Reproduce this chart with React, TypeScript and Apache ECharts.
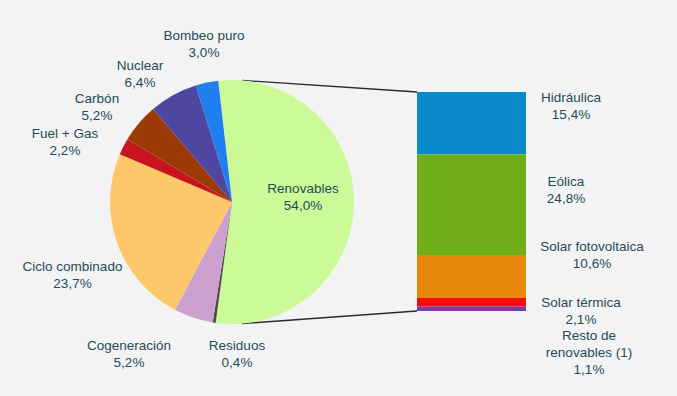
import React, { useEffect, useRef } from "react";
import * as echarts from "echarts";

const pieCategories = ["Renovables", "Residuos", "Cogeneración", "Ciclo combinado", "Fuel + Gas", "Carbón", "Nuclear", "Bombeo puro"];
const pieValues = [54.0, 0.4, 5.2, 23.7, 2.2, 5.2, 6.4, 3.0];
const pieColors = ["#ccfa99", "#4d4d45", "#cca0cf", "#fec86a", "#c8141e", "#9c3a06", "#4f46a0", "#1f7ef0"];

const barCategories = ["Hidráulica", "Eólica", "Solar fotovoltaica", "Solar térmica", "Resto de\nrenovables (1)"];
const barValues = [15.4, 24.8, 10.6, 2.1, 1.1];
const barColors = ["#0a8acb", "#6fad19", "#e8880a", "#fb0a0a", "#7a3aa8"];

// label layout (x center, y center)
const pieLabelPos: [number, number][] = [
  [303, 196.5], [237, 353.5], [129, 353.5], [72.5, 275], [65, 141.5], [97, 106.5], [140, 73.5], [204, 43.5],
];
const barLabelPos: [number, number][] = [
  [571, 106], [566, 189.5], [592, 255], [581, 310.5], [589, 352],
];

const PIE_CX = 232;
const PIE_CY = 202;
const PIE_R = 122;
const PIE_START = 96.5;
const GRID = { left: 417, top: 92, width: 109, height: 219 };

const fmt = (v: number) => v.toFixed(1).replace(".", ",") + "%";

const textStyle = {
  color: "#1f4b59",
  fontFamily: "'Liberation Sans', Arial, sans-serif",
  fontSize: 13.5,
  lineHeight: 17,
  align: "center" as const,
};

export default function App() {
  const ref = useRef<HTMLDivElement>(null);
  useEffect(() => {
    document.body.style.margin = "0";
    if (!ref.current) return;
    const chart = echarts.init(ref.current, undefined, { renderer: "svg" });
    const total = barValues.reduce((a, b) => a + b, 0);
    chart.setOption({
      animation: false,
      backgroundColor: "#f3f3f3",
      grid: { left: GRID.left, top: GRID.top, width: GRID.width, height: GRID.height },
      xAxis: { type: "category", data: [""], show: false },
      yAxis: { type: "value", min: 0, max: total, inverse: true, show: false },
      series: [
        {
          type: "pie",
          center: [PIE_CX, PIE_CY],
          radius: PIE_R,
          startAngle: PIE_START,
          clockwise: true,
          avoidLabelOverlap: false,
          data: pieCategories.map((n, i) => ({ name: n, value: pieValues[i], itemStyle: { color: pieColors[i] } })),
          label: {
            show: true,
            position: "outside",
            overflow: "none",
            formatter: (p: any) => `${p.name}\n${fmt(p.value)}`,
            ...textStyle,
          },
          labelLine: { show: false },
          labelLayout: (p: any) => ({
            x: pieLabelPos[p.dataIndex][0],
            y: pieLabelPos[p.dataIndex][1],
            align: "center",
            verticalAlign: "middle",
          }),
          emphasis: { disabled: true },
        },
        ...barCategories.map((n, i) => ({
          type: "bar",
          name: n,
          stack: "ren",
          barWidth: "100%",
          data: [barValues[i]],
          itemStyle: { color: barColors[i] },
          label: {
            show: true,
            position: "right",
            formatter: () => `${n}\n${fmt(barValues[i])}`,
            ...textStyle,
          },
          labelLayout: () => ({
            x: barLabelPos[i][0],
            y: barLabelPos[i][1],
            align: "center",
            verticalAlign: "middle",
          }),
          emphasis: { disabled: true },
        })),
      ],
    });
    const yTop = chart.convertToPixel({ yAxisIndex: 0 }, 0) as number;
    const yBot = chart.convertToPixel({ yAxisIndex: 0 }, total) as number;
    const a = (85.3 * Math.PI) / 180;
    const px = PIE_CX + PIE_R * Math.cos(a);
    const pyTop = PIE_CY - PIE_R * Math.sin(a);
    const pyBot = PIE_CY + PIE_R * Math.sin(a);
    chart.setOption({
      graphic: [
        { type: "line", shape: { x1: px, y1: pyTop, x2: GRID.left, y2: yTop }, style: { stroke: "#2a2a2a", lineWidth: 1.3 } },
        { type: "line", shape: { x1: px, y1: pyBot, x2: GRID.left, y2: yBot }, style: { stroke: "#2a2a2a", lineWidth: 1.3 } },
      ],
    });
    return () => chart.dispose();
  }, []);
  return <div ref={ref} style={{ width: 677, height: 396 }} />;
}
